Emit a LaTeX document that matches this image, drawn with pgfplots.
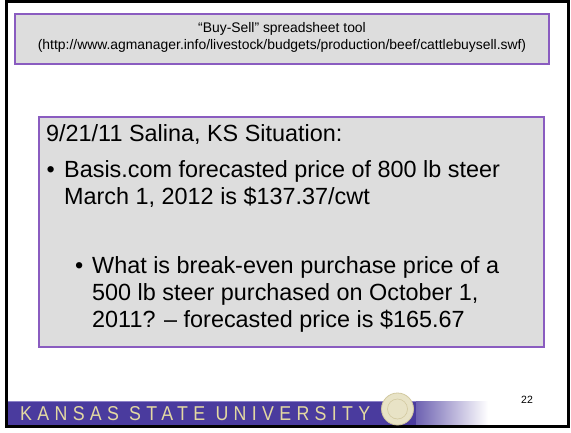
\documentclass[border=0pt]{standalone}
\usepackage{pgfplots}
\pgfplotsset{compat=1.18}
\usepackage{graphicx}
\usepackage{fontspec}
\setmainfont{Liberation Sans}
\definecolor{boxgray}{HTML}{DDDDDD}
\definecolor{boxpurple}{HTML}{8A5CC0}
\definecolor{ksu}{HTML}{4A3B9E}
\definecolor{ksulight}{HTML}{8C82C8}
\definecolor{ksugold}{HTML}{E3D9A2}
\definecolor{seal}{HTML}{E8E3C6}
\definecolor{sealedge}{HTML}{D2C9A0}
\begin{document}
\begin{tikzpicture}
\begin{axis}[
  width=571bp, height=433bp, scale only axis,
  xmin=0, xmax=571, ymin=0, ymax=433, y dir=reverse,
  hide axis, clip=false,
]
% page background
\addplot[draw=none, fill=white] coordinates {(0,0) (571,0) (571,433) (0,433)} --cycle;
% top title box
\addplot[draw=boxpurple, line width=1.2bp, fill=boxgray] coordinates {(15,14) (549,14) (549,64) (15,64)} --cycle;
% main box
\addplot[draw=boxpurple, line width=1.2bp, fill=boxgray] coordinates {(39,117) (544,117) (544,347) (39,347)} --cycle;
% footer band
\addplot[draw=none, fill=ksu] coordinates {(7.5,401) (416,401) (416,425) (7.5,425)} --cycle;
\addplot[draw=none, left color=ksu!80, right color=white] coordinates {(416,401) (488,401) (488,425) (416,425)} --cycle;
\addplot[draw=ksulight, line width=1.2bp] coordinates {(7.5,401.5) (416,401.5)};
% seal
\addplot[only marks, mark=*, mark size=16bp, mark options={fill=seal, draw=sealedge, line width=0.8bp}] coordinates {(397.5,409)};
\addplot[only marks, mark=o, mark size=10bp, mark options={draw=sealedge, line width=0.6bp}] coordinates {(397.5,409)};
% outer frame
\addplot[draw=black, line width=3bp] coordinates {(6,1.8) (568.5,1.8) (568.5,426.5) (6,426.5)} --cycle;

% title box text
\node[anchor=base, inner sep=0, font=\fontsize{13.9bp}{17bp}\selectfont] at (axis cs:282,33) {“Buy-Sell” spreadsheet tool};
\node[anchor=base, inner sep=0, font=\fontsize{13.9bp}{17bp}\selectfont] at (axis cs:282,50) {(http://www.agmanager.info/livestock/budgets/production/beef/cattlebuysell.swf)};

% main text
\tikzset{mt/.style={anchor=base west, inner sep=0, font=\fontsize{23.4bp}{27bp}\selectfont}}
\node[mt] at (axis cs:46,141) {9/21/11 Salina, KS Situation:};
\node[mt] at (axis cs:46.5,177) {•};
\node[mt] at (axis cs:64,177) {Basis.com forecasted price of 800 lb steer};
\node[mt] at (axis cs:64,204) {March 1, 2012 is \$137.37/cwt};
\node[mt] at (axis cs:75,273) {•};
\node[mt] at (axis cs:92,273) {What is break-even purchase price of a};
\node[mt] at (axis cs:92,300) {500 lb steer purchased on October 1,};
\node[mt] at (axis cs:92,327) {2011? – forecasted price is \$165.67};

% footer text
\node[anchor=south west, inner sep=0, text=ksugold] at (axis cs:20,421) {\resizebox{350bp}{14bp}{\addfontfeature{LetterSpace=30}KANSAS STATE UNIVERSITY}};
\node[anchor=base, inner sep=0, font=\fontsize{10.5bp}{12bp}\selectfont] at (axis cs:527,403) {22};
\end{axis}
\end{tikzpicture}
\end{document}
